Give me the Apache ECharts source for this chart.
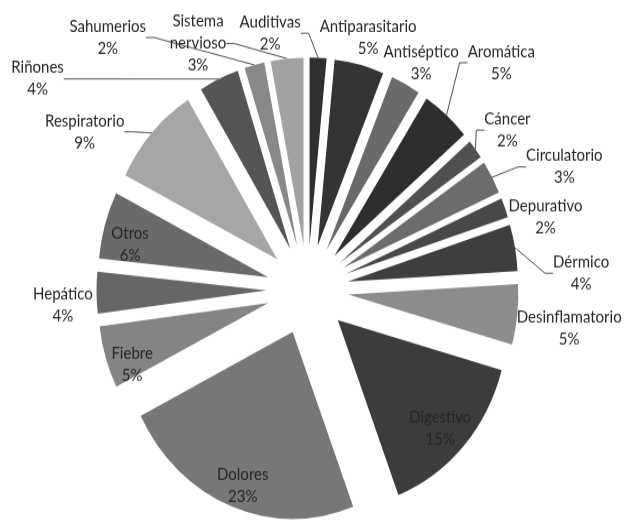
<!DOCTYPE html>
<html>
<head>
<meta charset="utf-8">
<script src="https://cdn.jsdelivr.net/npm/echarts@6/dist/echarts.min.js"></script>
<style>
html,body{margin:0;padding:0;background:#fff;width:629px;height:524px;overflow:hidden;}
#chart{width:629px;height:476px;transform:scaleY(1.1008);transform-origin:0 0;}
</style>
</head>
<body>
<div id="chart"></div>
<script>
const categories = ['Auditivas','Antiparasitario','Antiséptico','Aromática','Cáncer','Circulatorio','Depurativo','Dérmico','Desinflamatorio','Digestivo','Dolores','Fiebre','Hepático','Otros','Respiratorio','Riñones','Sahumerios','Sistema\nnervioso'];
// estimated shares (%), labels show them rounded
const values = [1.6,4.7,2.8,4.7,1.7,2.9,1.7,4.0,5.2,14.9,23.4,5.4,3.6,5.8,8.8,3.8,1.9,3.1];
const colors = ['#303030','#343434','#6a6a6a','#2e2e2e','#505050','#6c6c6c','#484848','#3e3e3e','#8c8c8c','#3c3c3c','#777777','#848484','#666666','#6a6a6a','#a6a6a6','#555555','#888888','#a2a2a2'];
const insideLabels = ['Digestivo','Dolores','Fiebre','Otros'];
const noLine = ['Antiparasitario','Antiséptico','Depurativo','Desinflamatorio','Hepático'];
// label placement style: [angle shift from slice middle (deg, clockwise), distance from pie centre (px)]
const labelPlace = {
  'Auditivas':[-12.0,236],'Antiparasitario':[0.6,237],'Antiséptico':[1.2,235],'Aromática':[2.0,283],
  'Cáncer':[1.3,247],'Circulatorio':[5.5,280],'Depurativo':[5.2,247],'Dérmico':[7.3,274],
  'Desinflamatorio':[1.5,264],'Digestivo':[1.2,183],'Dolores':[-1.2,189],'Fiebre':[-4.2,188],
  'Hepático':[-2.6,245],'Otros':[-3.3,182],'Respiratorio':[-9.7,265],'Riñones':[-29.8,331],
  'Sahumerios':[-26.5,304],'Sistema\nnervioso':[-20.5,249]
};

const CX = 307.5, CY = 263.2, R = 170, EXPLODE = 41, START = 90;
const RAD = Math.PI / 180;
const total = values.reduce((a, b) => a + b, 0);

// middle angle (ECharts degrees, counter-clockwise from +x) of each slice
const mids = [];
let cum = 0;
values.forEach(v => { mids.push(START - (cum + v / 2) / total * 360); cum += v; });

const fmt = (p) => p.name.split('\n').map(s => '{t|' + s + '}').join('\n') + '\n{t|' + Math.round(p.value) + '%}';

function placeLabel(params) {
  const idx = params.seriesIndex;
  const p = labelPlace[categories[idx]];
  const a = (mids[idx] - p[0]) * RAD;
  return {
    x: CX + p[1] * Math.cos(a),
    y: CY - p[1] * Math.sin(a),
    align: 'center',
    verticalAlign: 'middle',
    hideOverlap: false
  };
}

const series = categories.map((name, k) => {
  const m = mids[k] * RAD;
  return {
    type: 'pie',
    name: name,
    center: [CX + EXPLODE * Math.cos(m), CY - EXPLODE * Math.sin(m)],
    radius: [0, R],
    startAngle: START,
    clockwise: true,
    avoidLabelOverlap: false,
    silent: true,
    emphasis: { disabled: true },
    itemStyle: { borderWidth: 0 },
    label: {
      show: true,
      position: insideLabels.includes(name) ? 'inside' : 'outside',
      overflow: 'none',
      bleedMargin: 0,
      formatter: fmt,
      rich: {
        t: { fontFamily: 'Lato', fontSize: 15, color: '#262626', align: 'center', lineHeight: 20 }
      }
    },
    labelLine: {
      show: !insideLabels.includes(name) && !noLine.includes(name),
      length: 10,
      length2: 8,
      lineStyle: { color: '#505050', width: 1 },
      smooth: false
    },
    labelLayout: placeLabel,
    data: categories.map((c, i) => i === k
      ? { name: c, value: values[i], itemStyle: { color: colors[i] } }
      : { name: c, value: values[i], itemStyle: { color: 'rgba(0,0,0,0)' }, label: { show: false }, labelLine: { show: false } })
  };
});

const chart = echarts.init(document.getElementById('chart'), null, { renderer: 'canvas' });
chart.setOption({
  backgroundColor: '#ffffff',
  animation: false,
  series: series
});
</script>
</body>
</html>
